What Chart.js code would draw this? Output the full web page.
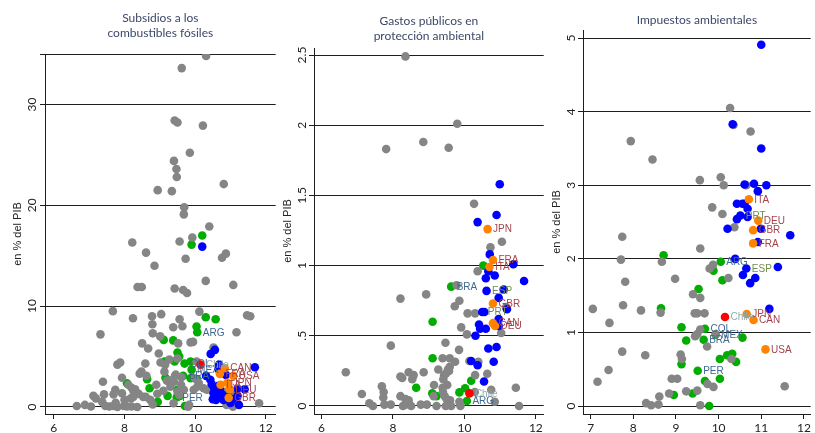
<!DOCTYPE html>
<html lang="es">
<head>
  <meta charset="UTF-8">
  <title>Subsidios, gastos e impuestos ambientales</title>
  <script src="https://cdn.jsdelivr.net/npm/chart.js"></script>
  <style>
    body { margin: 0; background: #fff; }
    #marco { position: relative; width: 815px; height: 433px; }
    .panel { position: absolute; top: 0; height: 433px; }
  </style>
</head>
<body>
  <div id="marco">
    <div class="panel" style="left:0;width:280px"><canvas id="g1"></canvas></div>
    <div class="panel" style="left:276px;width:272px"><canvas id="g2"></canvas></div>
    <div class="panel" style="left:546px;width:269px"><canvas id="g3"></canvas></div>
  </div>

  <script>
    // Eje x: log del PIB per cápita; eje y: % del PIB. Puntos [x, y, código opcional]

    // --- Panel 1: subsidios a los combustibles fósiles ---
    const p1Titulo = ["Subsidios a los", "combustibles fósiles"];
    const p1TicksX = [6, 8, 10, 12];
    const p1Grilla = [0, 10, 20, 30, 35];
    const p1TicksY = [0, 10, 20, 30];
    const p1EtiquetasY = ["0", "10", "20", "30"];
    const p1Gris = [
      [10.31,34.8],[9.62,33.6],[9.42,28.4],[9.50,28.2],[10.22,27.9],[9.85,25.2],[9.40,24.4],[9.47,23.6],
      [9.48,22.8],[10.81,22.1],[8.94,21.5],[9.34,21.4],[9.69,19.8],[9.68,19.1],[10.40,17.9],[9.92,16.8],
      [8.22,16.3],[9.56,16.4],[8.61,15.3],[10.76,14.8],[10.87,15.2],[9.73,14.7],[8.85,14.0],[8.37,11.9],
      [8.49,11.9],[9.42,11.75],[9.66,11.6],[9.77,11.3],[10.30,12.5],[11.08,12.1],
      [7.67,9.5],[8.24,8.8],[8.78,9.0],[9.04,9.2],[8.79,8.2],[9.56,8.7],[9.64,8.0],[10.12,9.45],
      [11.47,9.1],[11.56,9.0],[11.17,7.4],[7.32,7.2],[8.80,7.3],[9.01,7.0],[9.38,7.9],[9.52,6.3],
      [9.87,6.4],[9.94,6.45],[8.50,6.3],[8.67,5.8],[8.97,5.3],[10.52,5.9],[9.27,4.7],[9.50,4.8],
      [9.02,4.4],[9.15,4.2],[10.04,4.5],[7.80,4.2],[7.88,4.4],[8.59,4.3],[8.48,3.5],[8.43,3.3],
      [8.62,3.1],[7.93,2.9],[7.39,2.5],[8.11,2.2],[8.90,2.2],[9.45,3.2],[9.61,2.95],[9.43,3.1],
      [9.27,2.65],[9.13,3.5],[9.99,2.85],[10.10,2.4],[10.06,2.0],[9.96,1.7],[10.24,1.85],[10.33,1.7],
      [10.70,2.0],[10.84,1.5],[11.03,1.5],[11.07,1.35],[10.89,0.2],[11.07,0.03],[11.81,0.37],
      [8.20,1.9],[8.25,1.6],[8.30,1.75],[7.74,1.7],[7.69,1.25],[7.93,1.35],[7.42,1.25],[7.12,1.1],
      [7.19,0.85],[7.37,0.5],[7.46,0.1],[6.65,0.1],[6.88,0.2],[7.05,0.05],[7.57,0.05],[7.68,0.1],
      [7.80,0.0],[7.98,0.1],[8.07,0.05],[8.20,0.05],[8.36,0.0],[8.40,1.3],[8.53,1.0],[8.25,1.0],
      [8.18,0.85],[8.73,0.7],[8.80,0.25],[8.60,1.0],[8.93,1.3],[9.50,1.5],[9.60,2.2],[9.55,1.2],
      [9.68,1.7],[9.30,2.0],[9.10,1.6],[9.20,2.6],[9.40,2.5],[9.39,0.37],[9.80,0.03],[9.83,0.2],
      [8.00,0.7],[7.75,0.4]
    ];
    const p1Verde = [
      [10.20,17.0],[9.90,16.1],[10.30,8.9],[10.58,8.7],[10.04,7.98],[10.06,7.4,"ARG"],[9.11,6.65],
      [9.38,6.6],[9.50,5.4],[9.55,5.0],[9.42,4.5],[9.13,4.5],[9.87,4.5],[9.70,4.3,"COL"],
      [9.90,3.7,"MEX"],[9.66,3.1,"BRA"],[9.16,2.9],[10.04,2.75],[9.87,2.85],[8.64,2.75],[8.07,2.35],
      [8.71,1.85],[10.61,1.5],[9.22,1.1],[9.48,0.96,"PER"],[9.50,1.7],[9.57,1.1],[8.94,0.5],[9.71,0.1]
    ];
    const p1Azul = [
      [10.20,15.9],[10.44,5.26],[10.56,5.66],[10.68,4.2],[11.69,3.94],[10.66,3.74],[10.87,3.18],
      [10.31,3.08],[10.43,2.7],[10.47,2.25],[10.66,2.1],[10.54,1.85],[10.70,1.76],[11.40,1.76],
      [11.20,1.8],[10.52,1.35],[10.66,1.0],[10.78,1.2],[10.94,0.96],[11.07,0.76],[11.20,1.1],
      [10.50,0.76],[10.59,0.7],[10.80,0.7],[10.98,0.63],[11.24,0.2],[11.00,0.4]
    ];
    const p1Naranja = [
      [10.84,3.84,"CAN"],[10.70,3.28,"FRA"],[11.08,3.08,"USA"],[10.91,2.4,"JPN"],
      [10.72,2.2,"ITA"],[10.98,1.75,"DEU"],[10.95,0.9,"GBR"]
    ];
    const p1Rojo = [[10.15,4.2,"Chile"]];

    // --- Panel 2: gastos públicos en protección ambiental ---
    const p2Titulo = ["Gastos públicos en", "protección ambiental"];
    const p2TicksX = [6, 8, 10, 12];
    const p2Grilla = [0, 0.5, 1, 1.5, 2, 2.5];
    const p2TicksY = [0, 0.5, 1, 1.5, 2, 2.5];
    const p2EtiquetasY = ["0", ".5", "1", "1.5", "2", "2.5"];
    const p2Gris = [
      [8.35,2.49],[9.80,2.01],[8.85,1.88],[7.81,1.83],[9.56,1.84],[10.27,1.44],[11.05,1.17],[10.73,1.13],
      [10.37,0.96],[9.78,0.86],[8.93,0.795],[8.21,0.765],[9.86,0.75],[9.73,0.71],[11.17,0.705],[10.09,0.66],
      [10.30,0.66],[9.91,0.56],[11.03,0.52],[10.07,0.51],[7.94,0.43],[9.47,0.45],[9.85,0.40],[9.39,0.34],
      [9.59,0.34],[9.74,0.315],[9.59,0.28],[9.54,0.26],[9.48,0.23],[9.43,0.22],[9.27,0.26],[10.39,0.315],
      [10.64,0.23],[10.30,0.22],[6.68,0.24],[8.21,0.21],[8.26,0.2],[8.44,0.24],[8.58,0.22],[8.54,0.19],
      [8.86,0.24],[7.69,0.14],[7.74,0.1],[7.73,0.06],[7.13,0.085],[9.15,0.15],[9.39,0.13],[9.52,0.15],
      [9.40,0.1],[9.45,0.07],[9.50,0.05],[10.29,0.10],[10.75,0.116],[11.44,0.13],[10.85,0.03],[11.53,0.0],
      [7.34,0.02],[7.44,0.0],[7.76,0.01],[7.94,0.01],[8.28,0.0],[8.35,0.01],[8.51,0.0],[8.78,0.01],
      [8.95,0.01],[9.22,0.0],[9.54,0.02],[9.63,0.0],[9.86,0.03],[9.89,0.0],[8.21,0.07],[8.35,0.05],
      [8.44,0.04],[9.14,0.07],[9.60,0.04],[9.48,0.0],[10.14,0.32],[9.41,0.19],[9.57,0.25]
    ];
    const p2Verde = [
      [10.53,1.0],[9.63,0.85,"BRA"],[9.11,0.60],[9.11,0.34],[10.19,0.18],[8.65,0.13],[9.10,0.09],
      [9.22,0.07],[9.86,0.097],[10.02,0.126],[10.07,0.035,"ARG"]
    ];
    const p2Azul = [
      [10.99,1.58],[10.90,1.36],[10.37,1.31],[10.71,1.08],[11.37,1.01],[10.67,0.96],[10.85,0.93],
      [10.60,0.91],[11.67,0.89],[10.62,0.82,"ESP"],[11.10,0.83],[10.96,0.77],[11.19,0.69],
      [10.50,0.67,"PRT"],[10.56,0.67],[10.96,0.62],[10.96,0.57],[10.41,0.58],[10.44,0.55],[10.60,0.55],
      [10.31,0.50],[10.67,0.41],[10.90,0.42],[10.19,0.32],[10.37,0.29],[10.82,0.315],[10.55,0.175]
    ];
    const p2Naranja = [
      [10.65,1.26,"JPN"],[10.80,1.04,"FRA"],[10.70,0.99,"ITA"],[10.80,0.73,"GBR"],
      [10.80,0.59,"CAN"],[10.86,0.57,"DEU"]
    ];
    const p2Rojo = [[10.14,0.09,"Chile"]];

    // --- Panel 3: impuestos ambientales ---
    const p3Titulo = ["Impuestos ambientales"];
    const p3TicksX = [7, 8, 9, 10, 11, 12];
    const p3Grilla = [0, 1, 2, 3, 4, 5];
    const p3TicksY = [0, 1, 2, 3, 4, 5];
    const p3EtiquetasY = ["0", "1", "2", "3", "4", "5"];
    const p3Gris = [
      [10.27,4.05],[10.35,3.82],[10.75,3.73],[7.94,3.6],[8.45,3.35],[9.56,3.07],[10.05,3.11],[10.12,3.0],
      [10.65,3.0],[9.85,2.70],[10.09,2.61],[10.37,2.43],[7.74,2.30],[9.57,2.14],[7.71,1.99],[8.67,1.96],
      [9.87,1.92],[9.79,1.87],[10.23,1.74],[8.98,1.73],[7.81,1.69],[9.40,1.52],[9.57,1.47],[7.76,1.37],
      [7.05,1.32],[8.18,1.30],[8.64,1.27],[9.44,1.26],[9.50,1.26],[9.67,1.26],[7.44,1.13],[9.57,1.04],
      [9.45,0.95],[9.50,0.98],[9.93,0.98],[9.73,0.81],[7.74,0.74],[8.28,0.69],[9.11,0.70],[9.14,0.64],
      [10.30,0.64],[7.42,0.49],[8.90,0.37],[9.03,0.37],[7.16,0.33],[9.74,0.30],[9.88,0.26],[11.55,0.27],
      [9.24,0.2],[9.50,0.21],[8.84,0.17],[8.61,0.13],[8.30,0.04],[8.42,0.01],[8.59,0.02],[9.57,0.01]
    ];
    const p3Verde = [
      [8.71,2.05],[10.05,1.96,"ARG"],[9.88,1.84],[10.09,1.71],[9.53,1.59],[8.65,1.33],[9.13,1.07],
      [9.68,1.05,"COL"],[9.93,0.97,"MEX"],[9.24,0.89],[9.65,0.90,"BRA"],[10.56,0.93],[10.32,0.71],
      [10.20,0.69],[10.03,0.64],[10.41,0.60],[9.13,0.57],[9.51,0.48,"PER"],[10.03,0.37],[9.68,0.34],
      [8.95,0.15],[9.39,0.17],[9.78,0.0]
    ];
    const p3Azul = [
      [11.00,4.91],[10.33,3.83],[11.00,3.5],[10.61,3.01],[10.83,3.02],[11.12,3.0],[10.92,2.92],
      [10.43,2.75],[10.56,2.75],[10.61,2.75],[10.68,2.68],[10.51,2.59,"PRT"],[10.68,2.57],[10.43,2.54],
      [10.21,2.41],[10.99,2.41],[11.68,2.32],[10.92,2.23],[10.39,2.0],[10.65,1.87,"ESP"],[11.39,1.89],
      [10.57,1.78],[10.86,1.74],[10.74,1.67],[11.19,1.32]
    ];
    const p3Naranja = [
      [10.71,2.81,"ITA"],[10.93,2.52,"DEU"],[10.81,2.39,"GBR"],[10.81,2.21,"FRA"],
      [10.66,1.25,"JPN"],[10.82,1.17,"CAN"],[11.10,0.77,"USA"]
    ];
    const p3Rojo = [[10.15,1.21,"Chile"]];

    // Estilos
    const colorGris = "#858585", colorVerde = "#00ad00", colorAzul = "#0000ff",
          colorNaranja = "#ff8200", colorRojo = "#ff0000";
    const colorEtiqueta = {
      ARG: "#3f6991", BRA: "#3f6991", COL: "#3f6991", MEX: "#3f6991", PER: "#3f6991",
      ESP: "#6f8f4f", PRT: "#6f8f4f", Chile: "#93abab"
    };
    const colorG7 = "#a3434b";
    const colorLinea = "#1e1e1e";

    function puntos(lista) {
      return lista.map(p => ({ x: p[0], y: p[1], codigo: p[2] || "" }));
    }

    function serie(lista, color, orden) {
      return {
        data: puntos(lista),
        backgroundColor: color,
        borderWidth: 0,
        pointRadius: 4.3,
        pointHoverRadius: 4.3,
        order: orden
      };
    }

    const textos = {
      id: "textos",
      afterDatasetsDraw(chart, args, o) {
        const ctx = chart.ctx, area = chart.chartArea, ys = chart.scales.y;
        ctx.save();
        // etiquetas de países
        ctx.font = '10px "Liberation Sans", Arial, sans-serif';
        ctx.textAlign = "left";
        ctx.textBaseline = "middle";
        chart.data.datasets.forEach((ds, i) => {
          const meta = chart.getDatasetMeta(i);
          ds.data.forEach((d, j) => {
            if (!d.codigo) return;
            const el = meta.data[j];
            ctx.fillStyle = colorEtiqueta[d.codigo] || colorG7;
            ctx.fillText(d.codigo, el.x + 5.5, el.y + 0.5);
          });
        });
        // título del panel
        ctx.fillStyle = "#3b4868";
        ctx.font = '12px Lato, "Open Sans", sans-serif';
        ctx.textAlign = "center";
        const cx = (area.left + area.right) / 2;
        o.titulo.forEach((t, k) => ctx.fillText(t, cx, o.tituloY + k * 15));
        // etiquetas del eje y, giradas
        ctx.fillStyle = "#222";
        ctx.font = '12px Lato, "Open Sans", sans-serif';
        o.ticksY.forEach((v, k) => {
          ctx.save();
          ctx.translate(o.etiquetaX, ys.getPixelForValue(v));
          ctx.rotate(-Math.PI / 2);
          ctx.fillText(o.etiquetasY[k], 0, 0);
          ctx.restore();
        });
        // título del eje y
        ctx.font = '11px "Liberation Sans", Arial, sans-serif';
        ctx.translate(o.ejeX, (area.top + area.bottom) / 2);
        ctx.rotate(-Math.PI / 2);
        ctx.fillText("en % del PIB", 0, 0);
        ctx.restore();
      }
    };

    function crearPanel(id, p) {
      new Chart(document.getElementById(id), {
        type: "scatter",
        data: {
          datasets: [
            serie(p.verde, colorVerde, 5),
            serie(p.gris, colorGris, 4),
            serie(p.azul, colorAzul, 3),
            serie(p.naranja, colorNaranja, 2),
            serie(p.rojo, colorRojo, 1)
          ]
        },
        options: {
          responsive: true,
          maintainAspectRatio: false,
          animation: false,
          layout: { padding: { top: p.arriba, right: 0, left: 0, bottom: 0 } },
          plugins: {
            legend: { display: false },
            tooltip: { enabled: false },
            textos: {
              titulo: p.titulo, tituloY: p.tituloY, ticksY: p.ticksY,
              etiquetasY: p.etiquetasY, etiquetaX: p.etiquetaX, ejeX: p.ejeX
            }
          },
          scales: {
            x: {
              type: "linear",
              min: p.xMin, max: p.xMax,
              afterBuildTicks: s => { s.ticks = p.ticksX.map(v => ({ value: v })); },
              afterFit: s => { s.height = 19; s.paddingLeft = 0; s.paddingRight = 0; },
              grid: { drawOnChartArea: false, color: colorLinea, tickLength: 5 },
              border: { color: colorLinea, width: 1 },
              ticks: { color: "#222", padding: 2, font: { family: 'Lato, "Open Sans", sans-serif', size: 12 } }
            },
            y: {
              type: "linear",
              min: p.yMin, max: p.yMax,
              afterBuildTicks: s => { s.ticks = p.grilla.map(v => ({ value: v })); },
              afterFit: s => { s.width = p.ancho; s.paddingTop = 0; s.paddingBottom = 0; },
              grid: { color: colorLinea, tickLength: 5, lineWidth: 1 },
              border: { color: colorLinea, width: 1 },
              ticks: { display: false }
            }
          }
        },
        plugins: [textos]
      });
    }

    crearPanel("g1", {
      titulo: p1Titulo, tituloY: 18, ticksX: p1TicksX, grilla: p1Grilla, ticksY: p1TicksY,
      etiquetasY: p1EtiquetasY, gris: p1Gris, verde: p1Verde, azul: p1Azul, naranja: p1Naranja, rojo: p1Rojo,
      xMin: 5.75, xMax: 12.28, yMin: -0.7, yMax: 35, arriba: 54, ancho: 45, etiquetaX: 32, ejeX: 18
    });
    crearPanel("g2", {
      titulo: p2Titulo, tituloY: 21, ticksX: p2TicksX, grilla: p2Grilla, ticksY: p2TicksY,
      etiquetasY: p2EtiquetasY, gris: p2Gris, verde: p2Verde, azul: p2Azul, naranja: p2Naranja, rojo: p2Rojo,
      xMin: 5.79, xMax: 12.22, yMin: -0.057, yMax: 2.55, arriba: 48, ancho: 38, etiquetaX: 26, ejeX: 12
    });
    crearPanel("g3", {
      titulo: p3Titulo, tituloY: 20, ticksX: p3TicksX, grilla: p3Grilla, ticksY: p3TicksY,
      etiquetasY: p3EtiquetasY, gris: p3Gris, verde: p3Verde, azul: p3Azul, naranja: p3Naranja, rojo: p3Rojo,
      xMin: 6.82, xMax: 12.16, yMin: -0.108, yMax: 5.11, arriba: 30, ancho: 37, etiquetaX: 25, ejeX: 11
    });
  </script>
</body>
</html>
